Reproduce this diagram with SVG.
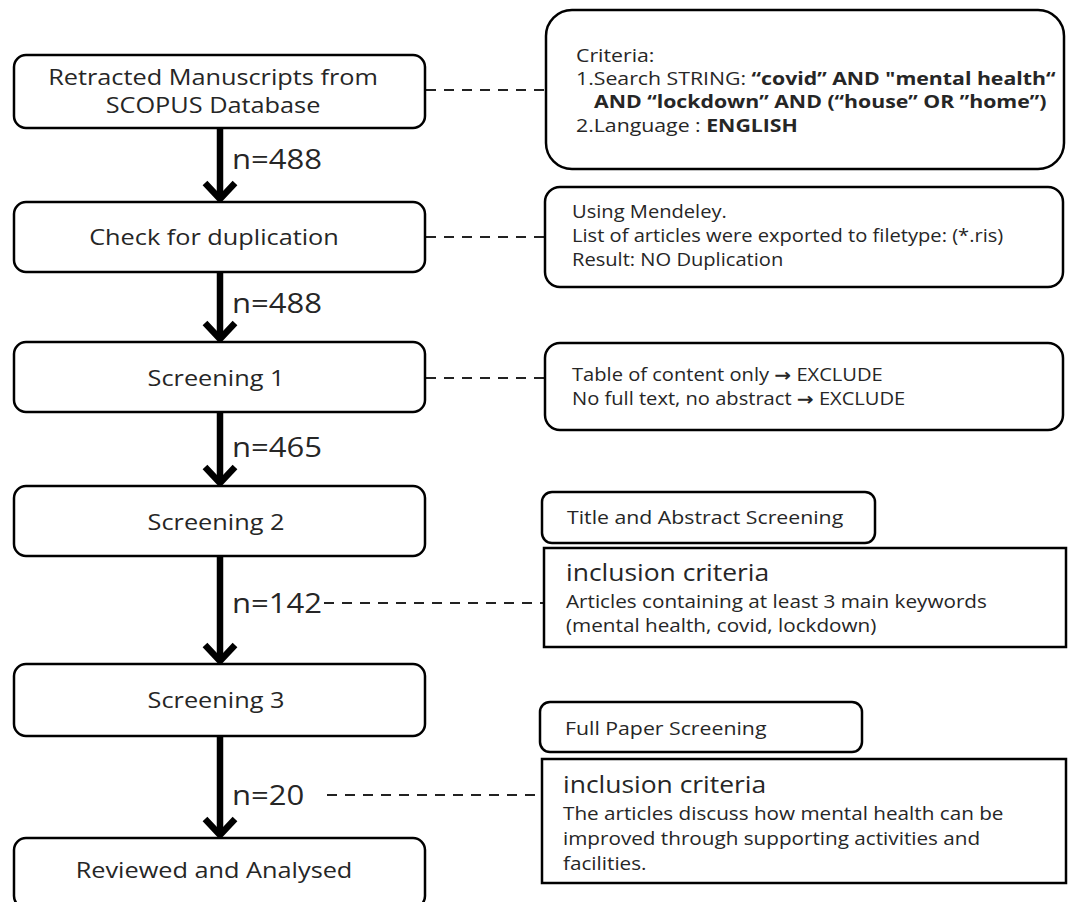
<svg xmlns="http://www.w3.org/2000/svg" width="1070" height="902" viewBox="0 0 1070 902">
<defs>
<style>
text{font-family:"Open Sans","Noto Sans",sans-serif;fill:#262626}
.node{fill:#fff;stroke:#000;stroke-width:2.5}
.main{font-size:22px;text-anchor:middle}
.note{font-size:17.5px}
.crit{font-size:18.5px}
.body{font-size:18px}
.lbl{font-size:18.5px}
.big{font-size:23px}
.n{font-size:27px}
.b{font-weight:bold}
.arr{font-family:"DejaVu Sans",sans-serif;font-weight:bold}
.flow{stroke:#000;stroke-width:6.5;fill:none}
.head{stroke:#000;stroke-width:6.5;fill:none;stroke-linejoin:miter;stroke-linecap:butt}
.dash{stroke:#222;stroke-width:2;stroke-dasharray:10 8;fill:none}
</style>
</defs>
<rect width="1070" height="902" fill="#fff"/>

<g id="connectors">
<line class="flow" x1="220" y1="128" x2="220" y2="198"/>
<polyline class="head" points="205,183 220,199 235,183"/>
<line class="flow" x1="220" y1="272" x2="220" y2="338"/>
<polyline class="head" points="205,323 220,339 235,323"/>
<line class="flow" x1="220" y1="412" x2="220" y2="482"/>
<polyline class="head" points="205,467 220,483 235,467"/>
<line class="flow" x1="220" y1="556" x2="220" y2="660"/>
<polyline class="head" points="205,645 220,661 235,645"/>
<line class="flow" x1="220" y1="736" x2="220" y2="834"/>
<polyline class="head" points="205,819 220,835 235,819"/>
<line class="dash" x1="426" y1="90" x2="546" y2="90"/>
<line class="dash" x1="426" y1="237" x2="545" y2="237"/>
<line class="dash" x1="426" y1="378" x2="545" y2="378"/>
<line class="dash" x1="324" y1="603" x2="545" y2="603"/>
<line class="dash" x1="327" y1="795" x2="545" y2="795"/>
<text class="n" transform="translate(232 169) scale(1.15 1)">n=488</text>
<text class="n" transform="translate(232 313) scale(1.15 1)">n=488</text>
<text class="n" transform="translate(232 457) scale(1.15 1)">n=465</text>
<text class="n" transform="translate(232 613) scale(1.15 1)">n=142</text>
<text class="n" transform="translate(232 805) scale(1.15 1)">n=20</text>
</g>

<g id="retracted">
<rect class="node" x="14" y="55" width="411" height="73" rx="12"/>
<text class="main" transform="translate(213 85) scale(1.15 1)">Retracted Manuscripts from</text>
<text class="main" transform="translate(213 113) scale(1.15 1)">SCOPUS Database</text>
</g>
<g id="duplication">
<rect class="node" x="14" y="202" width="411" height="70" rx="12"/>
<text class="main" transform="translate(214 245) scale(1.15 1)">Check for duplication</text>
</g>
<g id="screening1">
<rect class="node" x="14" y="342" width="411" height="70" rx="12"/>
<text class="main" transform="translate(216 386) scale(1.15 1)">Screening 1</text>
</g>
<g id="screening2">
<rect class="node" x="14" y="486" width="411" height="70" rx="12"/>
<text class="main" transform="translate(216 530) scale(1.15 1)">Screening 2</text>
</g>
<g id="screening3">
<rect class="node" x="14" y="664" width="411" height="72" rx="12"/>
<text class="main" transform="translate(216 708) scale(1.15 1)">Screening 3</text>
</g>
<g id="reviewed">
<rect class="node" x="14" y="838" width="411" height="70" rx="12"/>
<text class="main" transform="translate(214 878) scale(1.15 1)">Reviewed and Analysed</text>
</g>

<g id="criteria">
<rect class="node" x="546" y="10" width="518" height="159" rx="26"/>
<text class="crit" transform="translate(576 62) scale(1.15 1)">Criteria:</text>
<text class="crit" transform="translate(576 85) scale(1.15 1)">1.Search STRING: <tspan class="b">“covid” AND "mental health“</tspan></text>
<text class="crit b" transform="translate(594 108) scale(1.15 1)">AND “lockdown” AND (“house” OR ”home”)</text>
<text class="crit" transform="translate(576 132) scale(1.15 1)">2.Language : <tspan class="b">ENGLISH</tspan></text>
</g>
<g id="mendeley">
<rect class="node" x="545" y="187" width="518" height="100" rx="15"/>
<text class="note" transform="translate(572 218) scale(1.15 1)">Using Mendeley.</text>
<text class="note" transform="translate(572 242) scale(1.15 1)">List of articles were exported to filetype: (*.ris)</text>
<text class="note" transform="translate(572 266) scale(1.15 1)">Result: NO Duplication</text>
</g>
<g id="exclude">
<rect class="node" x="545" y="343" width="518" height="87" rx="15"/>
<text class="note" transform="translate(572 381) scale(1.15 1)">Table of content only <tspan class="arr">→</tspan> EXCLUDE</text>
<text class="note" transform="translate(572 405) scale(1.15 1)">No full text, no abstract <tspan class="arr">→</tspan> EXCLUDE</text>
</g>
<g id="title-abstract">
<rect class="node" x="542" y="492" width="333" height="51" rx="10"/>
<text class="lbl" transform="translate(567 524) scale(1.15 1)">Title and Abstract Screening</text>
</g>
<g id="inclusion1">
<rect class="node" x="544" y="548" width="522" height="99"/>
<text class="big" transform="translate(566 581) scale(1.15 1)">inclusion criteria</text>
<text class="body" transform="translate(566 608) scale(1.15 1)">Articles containing at least 3 main keywords</text>
<text class="body" transform="translate(566 632) scale(1.15 1)">(mental health, covid, lockdown)</text>
</g>
<g id="fullpaper">
<rect class="node" x="540" y="702" width="322" height="50" rx="10"/>
<text class="lbl" transform="translate(565 735) scale(1.15 1)">Full Paper Screening</text>
</g>
<g id="inclusion2">
<rect class="node" x="542" y="759" width="524" height="124"/>
<text class="big" transform="translate(563 793) scale(1.15 1)">inclusion criteria</text>
<text class="body" transform="translate(563 820) scale(1.15 1)">The articles discuss how mental health can be</text>
<text class="body" transform="translate(563 845) scale(1.15 1)">improved through supporting activities and</text>
<text class="body" transform="translate(563 870) scale(1.15 1)">facilities.</text>
</g>
</svg>
